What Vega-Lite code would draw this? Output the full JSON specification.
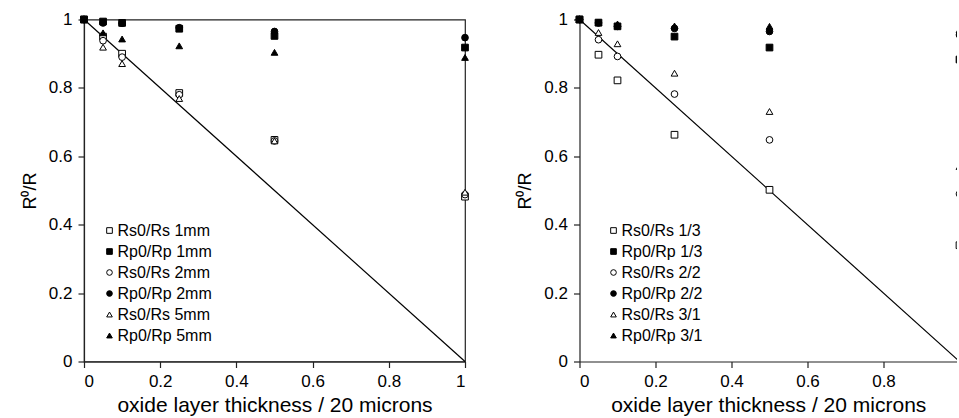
{
  "$schema": "https://vega.github.io/schema/vega-lite/v6.json",
  "background": "white",
  "padding": {"left": 20, "top": 9.5, "right": 0, "bottom": 0},
  "bounds": "flush",
  "spacing": 114.5,
  "config": {
    "font": "Liberation Sans",
    "view": {"stroke": null},
    "axis": {
      "grid": false,
      "domainColor": "#222",
      "domainWidth": 1.2,
      "tickColor": "#222",
      "tickWidth": 1.2,
      "tickSize": 6,
      "labelColor": "black",
      "labelFont": "Liberation Sans",
      "labelFontSize": 17,
      "titleColor": "black",
      "titleFont": "Liberation Sans",
      "titleFontSize": 18,
      "titleFontWeight": "normal"
    },
    "legend": {
      "orient": "none",
      "title": null,
      "padding": 0,
      "labelFont": "Liberation Sans",
      "labelFontSize": 16,
      "labelColor": "black",
      "labelOffset": 0,
      "rowPadding": 5,
      "symbolSize": 32,
      "symbolStrokeColor": "black",
      "symbolStrokeWidth": 1
    }
  },
  "resolve": {
    "scale": {"x": "independent", "y": "independent", "shape": "independent", "color": "independent"},
    "legend": {"shape": "independent", "color": "independent"}
  },
  "datasets": {
    "ideal": [
      {"x": 0, "r": 1},
      {"x": 1, "r": 0}
    ],
    "thickness": [
      {"series": "Rs0/Rs 1mm", "x": 0, "r": 1},
      {"series": "Rs0/Rs 1mm", "x": 0.05, "r": 0.95},
      {"series": "Rs0/Rs 1mm", "x": 0.1, "r": 0.9},
      {"series": "Rs0/Rs 1mm", "x": 0.25, "r": 0.785},
      {"series": "Rs0/Rs 1mm", "x": 0.5, "r": 0.648},
      {"series": "Rs0/Rs 1mm", "x": 1, "r": 0.482},
      {"series": "Rp0/Rp 1mm", "x": 0, "r": 1},
      {"series": "Rp0/Rp 1mm", "x": 0.05, "r": 0.994},
      {"series": "Rp0/Rp 1mm", "x": 0.1, "r": 0.99},
      {"series": "Rp0/Rp 1mm", "x": 0.25, "r": 0.973},
      {"series": "Rp0/Rp 1mm", "x": 0.5, "r": 0.952},
      {"series": "Rp0/Rp 1mm", "x": 1, "r": 0.918},
      {"series": "Rs0/Rs 2mm", "x": 0, "r": 1},
      {"series": "Rs0/Rs 2mm", "x": 0.05, "r": 0.938},
      {"series": "Rs0/Rs 2mm", "x": 0.1, "r": 0.89},
      {"series": "Rs0/Rs 2mm", "x": 0.25, "r": 0.78},
      {"series": "Rs0/Rs 2mm", "x": 0.5, "r": 0.645},
      {"series": "Rs0/Rs 2mm", "x": 1, "r": 0.488},
      {"series": "Rp0/Rp 2mm", "x": 0, "r": 1},
      {"series": "Rp0/Rp 2mm", "x": 0.05, "r": 0.99},
      {"series": "Rp0/Rp 2mm", "x": 0.1, "r": 0.989},
      {"series": "Rp0/Rp 2mm", "x": 0.25, "r": 0.976},
      {"series": "Rp0/Rp 2mm", "x": 0.5, "r": 0.965},
      {"series": "Rp0/Rp 2mm", "x": 1, "r": 0.947},
      {"series": "Rs0/Rs 5mm", "x": 0, "r": 1},
      {"series": "Rs0/Rs 5mm", "x": 0.05, "r": 0.919},
      {"series": "Rs0/Rs 5mm", "x": 0.1, "r": 0.871},
      {"series": "Rs0/Rs 5mm", "x": 0.25, "r": 0.769},
      {"series": "Rs0/Rs 5mm", "x": 0.5, "r": 0.645},
      {"series": "Rs0/Rs 5mm", "x": 1, "r": 0.495},
      {"series": "Rp0/Rp 5mm", "x": 0, "r": 1},
      {"series": "Rp0/Rp 5mm", "x": 0.05, "r": 0.961},
      {"series": "Rp0/Rp 5mm", "x": 0.1, "r": 0.943},
      {"series": "Rp0/Rp 5mm", "x": 0.25, "r": 0.923},
      {"series": "Rp0/Rp 5mm", "x": 0.5, "r": 0.904},
      {"series": "Rp0/Rp 5mm", "x": 1, "r": 0.889}
    ],
    "ratio": [
      {"series": "Rs0/Rs 1/3", "x": 0, "r": 1},
      {"series": "Rs0/Rs 1/3", "x": 0.05, "r": 0.897},
      {"series": "Rs0/Rs 1/3", "x": 0.1, "r": 0.822},
      {"series": "Rs0/Rs 1/3", "x": 0.25, "r": 0.663},
      {"series": "Rs0/Rs 1/3", "x": 0.5, "r": 0.502},
      {"series": "Rs0/Rs 1/3", "x": 1, "r": 0.34},
      {"series": "Rp0/Rp 1/3", "x": 0, "r": 1},
      {"series": "Rp0/Rp 1/3", "x": 0.05, "r": 0.991},
      {"series": "Rp0/Rp 1/3", "x": 0.1, "r": 0.98},
      {"series": "Rp0/Rp 1/3", "x": 0.25, "r": 0.95},
      {"series": "Rp0/Rp 1/3", "x": 0.5, "r": 0.918},
      {"series": "Rp0/Rp 1/3", "x": 1, "r": 0.883},
      {"series": "Rs0/Rs 2/2", "x": 0, "r": 1},
      {"series": "Rs0/Rs 2/2", "x": 0.05, "r": 0.941},
      {"series": "Rs0/Rs 2/2", "x": 0.1, "r": 0.892},
      {"series": "Rs0/Rs 2/2", "x": 0.25, "r": 0.782},
      {"series": "Rs0/Rs 2/2", "x": 0.5, "r": 0.648},
      {"series": "Rs0/Rs 2/2", "x": 1, "r": 0.49},
      {"series": "Rp0/Rp 2/2", "x": 0, "r": 1},
      {"series": "Rp0/Rp 2/2", "x": 0.05, "r": 0.99},
      {"series": "Rp0/Rp 2/2", "x": 0.1, "r": 0.98},
      {"series": "Rp0/Rp 2/2", "x": 0.25, "r": 0.974},
      {"series": "Rp0/Rp 2/2", "x": 0.5, "r": 0.965},
      {"series": "Rp0/Rp 2/2", "x": 1, "r": 0.955},
      {"series": "Rs0/Rs 3/1", "x": 0, "r": 1},
      {"series": "Rs0/Rs 3/1", "x": 0.05, "r": 0.962},
      {"series": "Rs0/Rs 3/1", "x": 0.1, "r": 0.929},
      {"series": "Rs0/Rs 3/1", "x": 0.25, "r": 0.843},
      {"series": "Rs0/Rs 3/1", "x": 0.5, "r": 0.731},
      {"series": "Rs0/Rs 3/1", "x": 1, "r": 0.57},
      {"series": "Rp0/Rp 3/1", "x": 0, "r": 1},
      {"series": "Rp0/Rp 3/1", "x": 0.05, "r": 0.99},
      {"series": "Rp0/Rp 3/1", "x": 0.1, "r": 0.987},
      {"series": "Rp0/Rp 3/1", "x": 0.25, "r": 0.981},
      {"series": "Rp0/Rp 3/1", "x": 0.5, "r": 0.98},
      {"series": "Rp0/Rp 3/1", "x": 1, "r": 0.97}
    ]
  },
  "hconcat": [
    {
      "width": 381,
      "height": 342,
      "view": {"stroke": "#222", "strokeWidth": 1.2},
      "encoding": {
        "x": {
          "field": "x", "type": "quantitative",
          "scale": {"domain": [0, 1], "nice": false},
          "axis": {"title": "oxide layer thickness / 20 microns", "titleFontSize": 21, "values": [0, 0.2, 0.4, 0.6, 0.8, 1], "format": "~g", "labelPadding": 6, "titlePadding": 5}
        },
        "y": {
          "field": "r", "type": "quantitative",
          "scale": {"domain": [0, 1], "nice": false},
          "axis": {"title": "R⁰/R", "values": [0, 0.2, 0.4, 0.6, 0.8, 1], "format": "~g", "labelPadding": 6, "titlePadding": 9}
        }
      },
      "layer": [
        {
          "data": {"name": "ideal"},
          "mark": {"type": "line", "color": "black", "strokeWidth": 1.2}
        },
        {
          "data": {"name": "thickness"},
          "mark": {"type": "point", "filled": true, "stroke": "black", "strokeWidth": 1, "size": 45, "opacity": 1},
          "encoding": {
            "shape": {
              "field": "series", "type": "nominal",
              "scale": {
                "domain": ["Rs0/Rs 1mm", "Rp0/Rp 1mm", "Rs0/Rs 2mm", "Rp0/Rp 2mm", "Rs0/Rs 5mm", "Rp0/Rp 5mm"],
                "range": ["square", "square", "circle", "circle", "triangle-up", "triangle-up"]
              },
              "legend": {"legendX": 17.5, "legendY": 203}
            },
            "color": {
              "field": "series", "type": "nominal",
              "scale": {
                "domain": ["Rs0/Rs 1mm", "Rp0/Rp 1mm", "Rs0/Rs 2mm", "Rp0/Rp 2mm", "Rs0/Rs 5mm", "Rp0/Rp 5mm"],
                "range": ["white", "black", "white", "black", "white", "black"]
              },
              "legend": {"legendX": 17.5, "legendY": 203}
            }
          }
        }
      ]
    },
    {
      "width": 377.5,
      "height": 342,
      "encoding": {
        "x": {
          "field": "x", "type": "quantitative",
          "scale": {"domain": [0, 0.99342], "nice": false},
          "axis": {"title": "oxide layer thickness / 20 microns", "titleFontSize": 21, "values": [0, 0.2, 0.4, 0.6, 0.8], "format": "~g", "labelPadding": 6, "titlePadding": 5}
        },
        "y": {
          "field": "r", "type": "quantitative",
          "scale": {"domain": [0, 1], "nice": false},
          "axis": {"title": "R⁰/R", "values": [0, 0.2, 0.4, 0.6, 0.8, 1], "format": "~g", "labelPadding": 6, "titlePadding": 9}
        }
      },
      "layer": [
        {
          "data": {"name": "ideal"},
          "mark": {"type": "line", "color": "black", "strokeWidth": 1.2, "clip": true}
        },
        {
          "data": {"name": "ratio"},
          "transform": [{"filter": "datum.x < 1"}],
          "mark": {"type": "point", "filled": true, "stroke": "black", "strokeWidth": 1, "size": 45, "opacity": 1},
          "encoding": {
            "shape": {
              "field": "series", "type": "nominal",
              "scale": {
                "domain": ["Rs0/Rs 1/3", "Rp0/Rp 1/3", "Rs0/Rs 2/2", "Rp0/Rp 2/2", "Rs0/Rs 3/1", "Rp0/Rp 3/1"],
                "range": ["square", "square", "circle", "circle", "triangle-up", "triangle-up"]
              },
              "legend": {"legendX": 26, "legendY": 203}
            },
            "color": {
              "field": "series", "type": "nominal",
              "scale": {
                "domain": ["Rs0/Rs 1/3", "Rp0/Rp 1/3", "Rs0/Rs 2/2", "Rp0/Rp 2/2", "Rs0/Rs 3/1", "Rp0/Rp 3/1"],
                "range": ["white", "black", "white", "black", "white", "black"]
              },
              "legend": {"legendX": 26, "legendY": 203}
            }
          }
        },
        {
          "data": {"name": "ratio"},
          "transform": [{"filter": "datum.x >= 1"}],
          "mark": {"type": "point", "filled": true, "stroke": "black", "strokeWidth": 1, "size": 45, "opacity": 1, "clip": true},
          "encoding": {
            "shape": {"field": "series", "type": "nominal"},
            "color": {"field": "series", "type": "nominal"}
          }
        },
        {
          "data": {"values": [{}]},
          "mark": {"type": "rule", "color": "#222", "strokeWidth": 1.2},
          "encoding": {"x": null, "y": {"datum": 1, "type": "quantitative"}}
        }
      ]
    }
  ]
}
